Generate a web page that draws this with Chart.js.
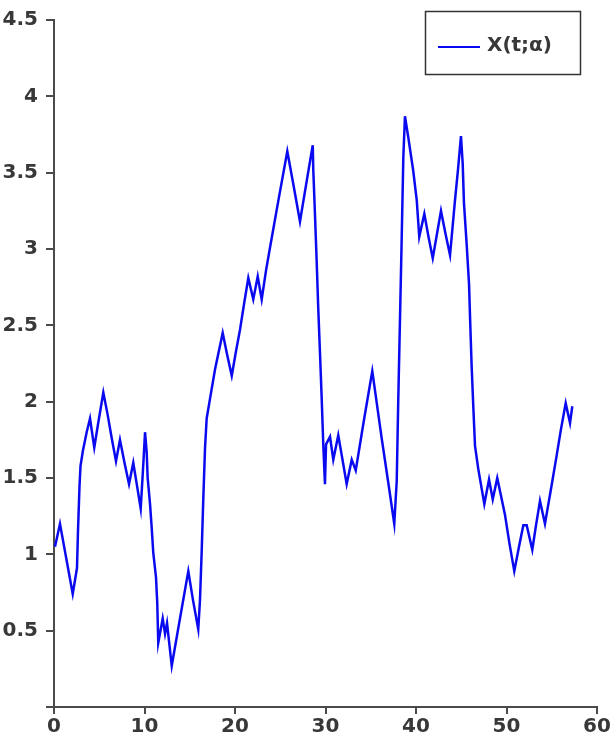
<!DOCTYPE html>
<html>
<head>
<meta charset="utf-8">
<script src="https://cdn.jsdelivr.net/npm/chart.js@4.4.1/dist/chart.umd.min.js"></script>
<style>
  html, body { margin: 0; padding: 0; background: #fff; }
  #wrap { width: 615px; height: 745px; }
</style>
</head>
<body>
<div id="wrap"><canvas id="chart" width="615" height="745"></canvas></div>
<script>
// t values (x axis)
const tValues = [
  0.11, 0.66, 2.07, 2.54, 2.65, 2.82, 2.93, 3.2, 3.61, 3.98,
  4.45, 4.86, 5.45, 5.91, 6.38, 6.85, 7.29, 7.79, 8.29, 8.76,
  9.17, 9.58, 9.83, 10.06, 10.24, 10.35, 10.61, 10.8, 10.97, 11.27,
  11.41, 11.52, 12.01, 12.27, 12.49, 13.01, 13.92, 14.84, 15.36, 15.94,
  16.13, 16.32, 16.5, 16.69, 16.87, 17.24, 17.79, 18.64, 19.12, 19.64,
  20.11, 20.55, 21.0, 21.47, 22.02, 22.51, 22.95, 23.43, 23.87, 24.83,
  25.78, 26.49, 27.18, 27.88, 28.59, 28.65, 28.84, 29.03, 29.2, 29.39,
  29.58, 29.76, 29.94, 30.06, 30.5, 30.86, 31.41, 31.88, 32.34, 32.9,
  33.34, 34.25, 35.17, 36.21, 36.91, 37.6, 37.87, 38.04, 38.23, 38.42,
  38.6, 38.78, 39.15, 39.7, 40.08, 40.36, 40.92, 41.38, 41.85, 42.32,
  42.76, 43.26, 43.76, 44.31, 44.64, 44.97, 45.16, 45.3, 45.6, 45.86,
  46.0, 46.15, 46.33, 46.52, 46.88, 47.55, 48.07, 48.48, 48.98, 49.83,
  50.33, 50.86, 51.38, 51.86, 52.23, 52.85, 53.26, 53.7, 54.25, 54.92,
  55.55, 56.02, 56.54, 57.02, 57.27
]
// X(t;alpha) values
const xValues = [
  1.05, 1.2, 0.74, 0.91, 1.15, 1.45, 1.58, 1.68, 1.8, 1.89,
  1.7, 1.85, 2.06, 1.92, 1.76, 1.61, 1.75, 1.6, 1.46, 1.6,
  1.45, 1.3, 1.55, 1.8, 1.67, 1.5, 1.33, 1.17, 1.01, 0.85,
  0.68, 0.42, 0.58, 0.48, 0.55, 0.27, 0.58, 0.89, 0.7, 0.51,
  0.7, 1.02, 1.37, 1.7, 1.89, 2.02, 2.21, 2.45, 2.31, 2.17,
  2.33, 2.47, 2.64, 2.81, 2.67, 2.82, 2.67, 2.86, 3.01, 3.33,
  3.64, 3.41, 3.18, 3.43, 3.68, 3.52, 3.22, 2.91, 2.61, 2.32,
  2.02, 1.71, 1.46, 1.72, 1.77, 1.62, 1.78, 1.62, 1.46, 1.62,
  1.55, 1.88, 2.2, 1.76, 1.48, 1.2, 1.48, 2.01, 2.54, 3.07,
  3.6, 3.87, 3.73, 3.51, 3.32, 3.08, 3.23, 3.08, 2.94, 3.1,
  3.25, 3.1, 2.96, 3.32, 3.52, 3.74, 3.56, 3.3, 3.03, 2.77,
  2.5, 2.23, 1.97, 1.71, 1.56, 1.33, 1.49, 1.36, 1.5, 1.26,
  1.07, 0.89, 1.05, 1.19, 1.19, 1.03, 1.19, 1.35, 1.2, 1.43,
  1.65, 1.82, 1.99, 1.86, 1.97
]
const seriesLabel = 'X(t;α)'
const lineColor = 'rgb(10, 10, 240)'
const axisColor = '#4a4a4a'
const textColor = '#383838'
const fontFamily = '"DejaVu Sans", Verdana, sans-serif'

// legend box in the top right corner
const boxLegend = {
  id: 'boxLegend',
  afterDraw(chart) {
    const c = chart.ctx
    c.save()
    c.strokeStyle = '#333'
    c.lineWidth = 1.5
    c.strokeRect(425.5, 11.5, 155, 63)
    c.strokeStyle = lineColor
    c.lineWidth = 2
    c.beginPath()
    c.moveTo(438, 47)
    c.lineTo(480, 47)
    c.stroke()
    c.fillStyle = textColor
    c.font = 'bold 20px ' + fontFamily
    c.textBaseline = 'middle'
    c.fillText(chart.data.datasets[0].label, 487, 46)
    c.restore()
  }
}

new Chart(document.getElementById('chart'), {
  type: 'line',
  data: {
    datasets: [{
      label: seriesLabel,
      data: tValues.map((t, i) => ({ x: t, y: xValues[i] })),
      borderColor: lineColor,
      borderWidth: 2.5,
      pointRadius: 0,
      tension: 0,
      fill: false
    }]
  },
  options: {
    responsive: false,
    animation: false,
    devicePixelRatio: 1,
    layout: { padding: { top: 15, right: 18, left: 0, bottom: 0 } },
    plugins: { legend: { display: false }, tooltip: { enabled: false } },
    scales: {
      x: {
        type: 'linear',
        min: 0, max: 60,
        ticks: { stepSize: 10, color: textColor, font: { family: fontFamily, size: 20, weight: 'bold' }, padding: 1, maxRotation: 0 },
        grid: { drawOnChartArea: false, color: axisColor, lineWidth: 2, tickLength: 7 },
        border: { color: axisColor, width: 2 },
        afterFit: s => { s.height = 38 }
      },
      y: {
        min: 0, max: 4.5,
        ticks: {
          stepSize: 0.5, color: textColor, font: { family: fontFamily, size: 20, weight: 'bold' }, padding: 8,
          callback: v => v === 0 ? '' : String(v)
        },
        grid: { drawOnChartArea: false, color: axisColor, lineWidth: 2, tickLength: 8 },
        border: { color: axisColor, width: 2 },
        afterFit: s => { s.width = 54 }
      }
    }
  },
  plugins: [boxLegend]
})
</script>
</body>
</html>
